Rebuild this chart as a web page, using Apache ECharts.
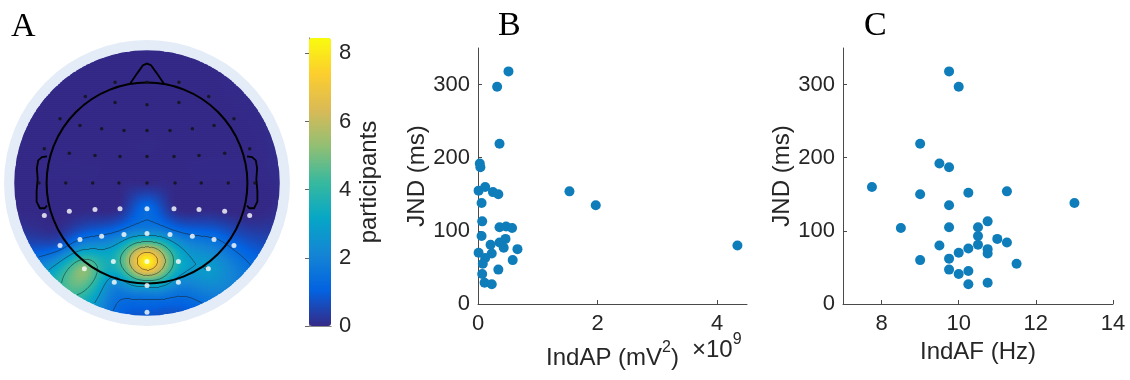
<!DOCTYPE html>
<html><head><meta charset="utf-8">
<script src="https://cdn.jsdelivr.net/npm/echarts@6/dist/echarts.min.js"></script>
<style>html,body{margin:0;padding:0;background:#fff}#c{width:1130px;height:380px}</style>
</head><body><div id="c"></div>
<script>
// ---------- Panel B: IndAP (x10^9 mV^2) vs JND (ms)
const indAP = [0.51,0.32,0.36,0.03,0.04,0.01,0.12,0.25,0.34,1.53,1.97,0.06,0.07,0.06,0.36,0.47,0.57,0.46,0.36,0.21,0.43,0.66,0.01,0.23,0.12,0.08,0.58,0.07,0.34,0.11,0.23,4.34];
const jndB  = [318,297,219,192,187,155,160,153,150,154,135,138,113,93,105,106,104,89,84,81,77,75,70,69,63,55,60,41,47,29,27,80];
// ---------- Panel C: IndAF (Hz) vs JND (ms)
const indAF = [9.75,10.0,9.0,9.5,9.75,7.75,9.0,10.25,11.25,13.0,9.75,8.5,9.75,10.5,10.75,10.5,11.0,11.25,10.5,9.5,10.25,10.75,10.75,10.0,9.75,9.0,11.5,9.75,10.25,10.0,10.25,10.75];
const jndC  = [318,297,219,192,187,160,150,152,154,138,135,104,105,105,113,93,89,84,81,80,76,75,69,70,62,60,55,47,45,41,27,29];
// ---------- Panel A: electrodes (normalised head coords) and participant counts
const elecU = [-0.24,0,0.24,
  -0.464,-0.24,0,0.24,0.464,
  -0.654,-0.504,-0.341,-0.173,0,0.173,0.341,0.504,0.654,
  -0.772,-0.584,-0.391,-0.203,0,0.203,0.391,0.584,0.772,
  -0.812,-0.611,-0.408,-0.211,0,0.211,0.408,0.611,0.812,
  -0.772,-0.584,-0.391,-0.203,0,0.203,0.391,0.584,0.772,
  -0.654,-0.504,-0.341,-0.173,0,0.173,0.341,0.504,0.654,
  -0.471,-0.253,0,0.236,0.461,
  -0.246,0,0.236,
  0];
const elecV = [0.758,0.758,0.758,
  0.65,0.605,0.588,0.605,0.65,
  0.483,0.432,0.408,0.395,0.395,0.395,0.408,0.432,0.483,
  0.257,0.224,0.207,0.2,0.2,0.2,0.207,0.224,0.257,
  0,0,0,0,0,0,0,0,0,
  -0.244,-0.212,-0.2,-0.194,-0.194,-0.194,-0.2,-0.212,-0.244,
  -0.47,-0.425,-0.4,-0.387,-0.38,-0.387,-0.4,-0.425,-0.47,
  -0.645,-0.59,-0.59,-0.59,-0.645,
  -0.746,-0.771,-0.746,
  -0.971];
const elecVal = [0,0,0,
  0,0,0,0,0,
  0,0,0,0,0,0,0,0,0,
  0,0,0,0,0,0,0,0,0,
  0,0,0,0,0,0,0,0,0,
  0,0,0,0.1,1.3,0.1,0,0,0,
  0.9,1.4,1.5,2.0,2.4,2.0,1.5,1.5,1.2,
  5.2,3.6,8.35,3.6,2.8,
  2.3,3.0,2.3,
  0.9];
const elecSig = [0,0,0, 0,0,0,0,0, 0,0,0,0,0,0,0,0,0, 0,0,0,0,0,0,0,0,0, 0,0,0,0,0,0,0,0,0,
  1,1,1,1,1,1,1,1,1, 1,1,1,1,1,1,1,1,1, 1,1,1,1,1, 1,1,1, 1];
const barTicks = [0,2,4,6,8];
const jndTicks = [0,100,200,300];
const apTicks = [0,2,4];
const afTicks = [8,10,12,14];
const contourLevels = [1.4,2.8,4.2,5.6,7.0];
const cMax = 8.45;

// ---------- biharmonic spline interpolation (as MATLAB griddata 'v4')
const n = elecU.length;
function green(r){ return r > 1e-9 ? r*r*(Math.log(r)-1) : 0; }
const M = [];
for (let i=0;i<n;i++){ const row=[]; for (let j=0;j<n;j++){ row.push(green(Math.hypot(elecU[i]-elecU[j], elecV[i]-elecV[j]))); } row.push(elecVal[i]); M.push(row); }
for (let c=0;c<n;c++){
  let p=c; for (let r=c+1;r<n;r++) if (Math.abs(M[r][c])>Math.abs(M[p][c])) p=r;
  const t=M[c]; M[c]=M[p]; M[p]=t;
  for (let r=0;r<n;r++){ if (r===c) continue; const f=M[r][c]/M[c][c]; if (f!==0) for (let k=c;k<=n;k++) M[r][k]-=f*M[c][k]; }
}
const w = M.map((row,i)=>row[n]/row[i]);
const NG = 133;
const cc = k => -1 + (k+0.5)*2/NG;
const field = [];
const heatData = [];
for (let j=0;j<NG;j++){
  const row=[];
  for (let i=0;i<NG;i++){
    const x=cc(i), y=cc(j); let s=0;
    for (let k=0;k<n;k++) s += w[k]*green(Math.hypot(x-elecU[k], y-elecV[k]));
    row.push(s);
    if (x*x+y*y <= 1.0) heatData.push([i,j,Math.max(0,Math.min(cMax,s))]);
  }
  field.push(row);
}
// marching squares for contour lines
const segs = [];
contourLevels.forEach(L=>{
  for (let j=0;j<NG-1;j++) for (let i=0;i<NG-1;i++){
    const x0=cc(i), x1=cc(i+1), y0=cc(j), y1=cc(j+1);
    if (x0*x0+y0*y0>1||x1*x1+y0*y0>1||x0*x0+y1*y1>1||x1*x1+y1*y1>1) continue;
    const P=[[x0,y0,field[j][i]],[x1,y0,field[j][i+1]],[x1,y1,field[j+1][i+1]],[x0,y1,field[j+1][i]]];
    const pts=[];
    for (let e=0;e<4;e++){ const a=P[e], b=P[(e+1)%4];
      if ((a[2]<L)!==(b[2]<L)){ const t=(L-a[2])/(b[2]-a[2]); pts.push([a[0]+t*(b[0]-a[0]), a[1]+t*(b[1]-a[1])]); } }
    if (pts.length===2) segs.push({coords:[pts[0],pts[1]]});
    else if (pts.length===4){ segs.push({coords:[pts[0],pts[1]]}); segs.push({coords:[pts[2],pts[3]]}); }
  }
});
const cats = Array.from({length:NG},(_,i)=>i);
const parula = ['#352a87','#0363e1','#1485d4','#06a7c6','#38b99e','#92bf73','#d9ba56','#fcce2e','#f9fb0e'];
const txt = '#262626', axc = '#4a4a4a';
const FF = 'Liberation Sans';

function scatterAxes(gi, xmin, xmax, xt, name){
  return {
    x: {gridIndex:gi, type:'value', min:xmin, max:xmax,
      axisLine:{show:true, lineStyle:{color:axc, width:1}},
      axisTick:{show:true, inside:true, length:4, customValues:xt, lineStyle:{color:axc}},
      axisLabel:{customValues:xt, fontSize:22, color:txt, margin:9, fontFamily:FF},
      splitLine:{show:false},
      name:name, nameLocation:'middle', nameGap:30,
      nameTextStyle:{fontSize:24, color:txt, fontFamily:FF, rich:{s:{fontSize:16, color:txt, fontFamily:FF, verticalAlign:'top', lineHeight:30}, b:{fontSize:24, color:txt, fontFamily:FF, verticalAlign:'bottom', lineHeight:24}}}},
    y: {gridIndex:gi, type:'value', min:0, max:350,
      axisLine:{show:true, lineStyle:{color:axc, width:1}},
      axisTick:{show:true, inside:true, length:4, customValues:jndTicks, lineStyle:{color:axc}},
      axisLabel:{customValues:jndTicks, fontSize:22, color:txt, margin:8, fontFamily:FF},
      splitLine:{show:false},
      name:'JND (ms)', nameLocation:'middle', nameGap:42, nameRotate:90,
      nameTextStyle:{fontSize:24, color:txt, fontFamily:FF}}
  };
}
const axB = scatterAxes(2, 0, 4.5, apTicks, '{b|IndAP (mV}{s|2}{b|)}');
const axC = scatterAxes(3, 7, 14, afTicks, 'IndAF (Hz)');

const head = {
  nose: [[-0.13,0.742],[-0.07,0.83],[-0.03,0.885],[0,0.898],[0.03,0.885],[0.07,0.83],[0.13,0.742]],
  ear: [[-0.752,0.2],[-0.79,0.195],[-0.818,0.17],[-0.828,0.11],[-0.822,0.03],[-0.83,-0.06],[-0.83,-0.14],[-0.805,-0.19],[-0.77,-0.19],[-0.752,-0.17]]
};
const serif = {fontFamily:'Liberation Serif', fontSize:34, fontWeight:'normal', color:'#000'};
const frame = {show:true, lineStyle:{color:'#8a8a8a', width:1}};

const option = {
  animation:false,
  textStyle:{fontFamily:FF},
  title:[
    {text:'A', left:11, top:10, padding:0, textStyle:serif},
    {text:'B', left:498, top:9, padding:0, textStyle:serif},
    {text:'C', left:864, top:9, padding:0, textStyle:serif},
    {text:'{b|×10}{s|9}', left:692, top:332, padding:0, textStyle:{fontWeight:'normal', rich:{b:{fontSize:24, fontWeight:'normal', color:txt, fontFamily:FF, verticalAlign:'bottom', lineHeight:24}, s:{fontSize:16, fontWeight:'normal', color:txt, fontFamily:FF, verticalAlign:'top', lineHeight:30}}}}
  ],
  grid:[
    {left:14, top:50, width:266, height:266},
    {left:14, top:50, width:266, height:266},
    {left:478, top:48, width:269, height:256},
    {left:843, top:48, width:270, height:256},
    {left:309, top:38, width:22, height:288}
  ],
  xAxis:[
    {gridIndex:0, type:'category', data:cats, show:false},
    {gridIndex:1, type:'value', min:-1, max:1, show:false},
    axB.x, axC.x,
    {gridIndex:4, type:'value', min:0, max:1, position:'top',
      axisLine:frame, axisTick:{show:false}, axisLabel:{show:false}, splitLine:{show:false}},
    {gridIndex:4, type:'value', min:0, max:1, position:'bottom',
      axisLine:frame, axisTick:{show:false}, axisLabel:{show:false}, splitLine:{show:false}}
  ],
  yAxis:[
    {gridIndex:0, type:'category', data:cats, show:false},
    {gridIndex:1, type:'value', min:-1, max:1, show:false},
    axB.y, axC.y,
    {gridIndex:4, type:'value', min:0, max:cMax, position:'right',
      axisLine:frame,
      axisTick:{show:true, inside:true, length:4, customValues:barTicks, lineStyle:{color:'#666'}},
      axisLabel:{customValues:barTicks, fontSize:22, color:txt, margin:8, fontFamily:FF},
      splitLine:{show:false},
      name:'participants', nameLocation:'middle', nameRotate:90, nameGap:26,
      nameTextStyle:{fontSize:24, color:txt, fontFamily:FF}},
    {gridIndex:4, type:'value', min:0, max:cMax, position:'left',
      axisLine:frame, axisTick:{show:false}, axisLabel:{show:false}, splitLine:{show:false}}
  ],
  visualMap:[{
    type:'continuous', seriesIndex:1, min:0, max:cMax, show:true, calculable:false,
    left:309, top:38, itemWidth:22, itemHeight:288, padding:0, text:null, hoverLink:false,
    inRange:{color:parula}
  }],
  series:[
    {type:'custom', xAxisIndex:1, yAxisIndex:1, z:1, silent:true, data:[[0,0]],
      renderItem:(p,api)=>{ const c=api.coord([0,0]); const r=api.size([1,1])[0];
        return {type:'circle', shape:{cx:c[0], cy:c[1], r:r*1.075}, style:{fill:'#e3ecf7', stroke:null}}; }},
    {type:'heatmap', xAxisIndex:0, yAxisIndex:0, z:2, data:heatData, progressive:0, silent:true, itemStyle:{borderWidth:0}},
    {type:'custom', xAxisIndex:1, yAxisIndex:1, z:3, silent:true, data:[[0,0]],
      renderItem:(p,api)=>{ const c=api.coord([0,0]); const r=api.size([1,1])[0];
        return {type:'circle', shape:{cx:c[0], cy:c[1], r:r*1.0+1}, style:{fill:null, stroke:'#e3ecf7', lineWidth:2.5}}; }},
    {type:'lines', coordinateSystem:'cartesian2d', xAxisIndex:1, yAxisIndex:1, z:4, silent:true, progressive:0, large:false,
      data:segs, lineStyle:{color:'#1a1a1a', width:0.6, opacity:0.8}},
    {type:'custom', xAxisIndex:1, yAxisIndex:1, z:5, silent:true, data:[[0,0]],
      renderItem:(p,api)=>{ const c=api.coord([0,0]); const r=api.size([1,1])[0];
        const pl = arr => arr.map(q=>api.coord(q));
        return {type:'group', children:[
          {type:'circle', shape:{cx:c[0], cy:c[1], r:r*0.755}, style:{fill:null, stroke:'#000', lineWidth:2}},
          {type:'polyline', shape:{points:pl(head.nose)}, style:{fill:null, stroke:'#000', lineWidth:1.8}},
          {type:'polyline', shape:{points:pl(head.ear)}, style:{fill:null, stroke:'#000', lineWidth:1.8}},
          {type:'polyline', shape:{points:pl(head.ear.map(q=>[-q[0],q[1]]))}, style:{fill:null, stroke:'#000', lineWidth:1.8}}
        ]}; }},
    {type:'scatter', xAxisIndex:1, yAxisIndex:1, z:6, silent:true, symbolSize:3.5,
      data:elecU.map((u,i)=>[u,elecV[i]]).filter((d,i)=>!elecSig[i]), itemStyle:{color:'#111'}},
    {type:'scatter', xAxisIndex:1, yAxisIndex:1, z:6, silent:true, symbolSize:5,
      data:elecU.map((u,i)=>[u,elecV[i]]).filter((d,i)=>elecSig[i]), itemStyle:{color:'#fff'}},
    {type:'scatter', xAxisIndex:2, yAxisIndex:2, z:3, symbolSize:10,
      data:indAP.map((x,i)=>[x,jndB[i]]), itemStyle:{color:'#0f7dba', opacity:1}},
    {type:'scatter', xAxisIndex:3, yAxisIndex:3, z:3, symbolSize:10,
      data:indAF.map((x,i)=>[x,jndC[i]]), itemStyle:{color:'#0f7dba', opacity:1}}
  ]
};
const chart = echarts.init(document.getElementById('c'), null, {renderer:'canvas'});
chart.setOption(option);
</script></body></html>
